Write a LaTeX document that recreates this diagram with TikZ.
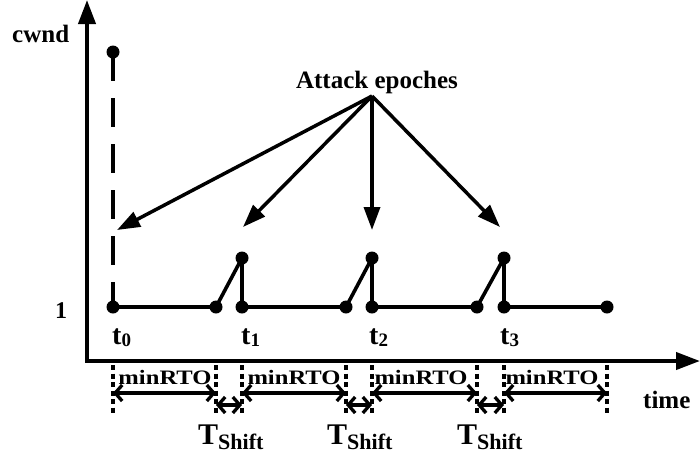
\documentclass[tikz,border=0pt]{standalone}
\usepackage{fontspec}
\setmainfont{Liberation Serif}
\usetikzlibrary{arrows.meta}
\newcommand{\tlabel}[1]{{\fontsize{28}{28}\selectfont t}{\fontsize{19}{19}\selectfont\raisebox{-2pt}{#1}}}
\newcommand{\shiftlabel}{{\fontsize{30}{30}\selectfont T}{\fontsize{22}{22}\selectfont\raisebox{-5pt}{Shift}}}
\newcommand{\rtolabel}{\scalebox{1.2}[1]{\fontsize{20.5}{20.5}\selectfont minRTO}}
\begin{document}
\begin{tikzpicture}[x=1pt,y=-1pt,
  axis/.style={line width=4pt, line join=miter,
    {Triangle[length=24pt,width=17pt]}-{Triangle[length=24pt,width=17pt]}},
  dot/.style={circle, fill=black, inner sep=0pt, minimum size=13pt},
  cwndline/.style={line width=3.6pt, line join=round},
  epoch/.style={line width=3.5pt, -{Triangle[length=23pt,width=16pt]}},
  dashedline/.style={line width=3.5pt, dash pattern=on 29pt off 17pt},
  guide/.style={line width=3.5pt, dash pattern=on 5pt off 3.5pt},
  span/.style={line width=3.3pt,
    {Straight Barb[length=7pt,width=16pt]}-{Straight Barb[length=7pt,width=16pt]}},
  lbl/.style={inner sep=0pt, font=\fontsize{25}{25}\selectfont\bfseries},
]
\useasboundingbox (0,0) rectangle (700,459);

% axes
\coordinate (ytop) at (87,0);
\coordinate (origin) at (87,361);
\coordinate (xend) at (700,361);
\draw[axis] (ytop) -- (origin) -- (xend);
\node[lbl, anchor=base west] (cwnd) at (12,42) {cwnd};
\node[lbl, anchor=base west] (time) at (643,408) {time};
\node[lbl, anchor=base, font=\fontsize{24}{24}\selectfont\bfseries] (one) at (61,318) {1};

% congestion window samples
\node[dot] (top) at (113,52) {};
\node[dot] (p0) at (113,307) {};
\node[dot] (a1) at (216,307) {};
\node[dot] (h1) at (242,258) {};
\node[dot] (p1) at (242,307) {};
\node[dot] (a2) at (346,307) {};
\node[dot] (h2) at (372,258) {};
\node[dot] (p2) at (372,307) {};
\node[dot] (a3) at (477,307) {};
\node[dot] (h3) at (504,258) {};
\node[dot] (p3) at (504,307) {};
\node[dot] (pend) at (607,307) {};

\draw[dashedline] (top.center) -- (p0.center);
\draw[cwndline] (p0.center) -- (a1.center) -- (h1.center) -- (p1.center)
  -- (a2.center) -- (h2.center) -- (p2.center)
  -- (a3.center) -- (h3.center) -- (p3.center) -- (pend.center);

% time instants
\node[lbl, anchor=base west] (t0) at (112,344) {\tlabel{0}};
\node[lbl, anchor=base west] (t1) at (241,344) {\tlabel{1}};
\node[lbl, anchor=base west] (t2) at (369,344) {\tlabel{2}};
\node[lbl, anchor=base west] (t3) at (500,344) {\tlabel{3}};

% attack epochs
\node[lbl, anchor=base] (attack) at (377,88) {Attack epoches};
\coordinate (src) at (372,96);
\coordinate (e0) at (117,230);
\coordinate (e1) at (243,227);
\coordinate (e2) at (372,230);
\coordinate (e3) at (500,227);
\foreach \e in {e0,e1,e2,e3} \draw[epoch] (src) -- (\e);

% interval guides
\foreach \n/\x in {g0/113,g1/216,g2/242,g3/346,g4/372,g5/477,g6/504,g7/607}{
  \coordinate (\n-top) at (\x,365);
  \coordinate (\n-bot) at (\x,414);
  \coordinate (\n-r) at (\x,393);
  \coordinate (\n-s) at (\x,405);
  \draw[guide] (\n-top) -- (\n-bot);
}

% minRTO spans
\draw[span] (g0-r) -- (g1-r);
\draw[span] (g2-r) -- (g3-r);
\draw[span] (g4-r) -- (g5-r);
\draw[span] (g6-r) -- (g7-r);
\node[lbl, anchor=base] (r0) at (165,384) {\rtolabel};
\node[lbl, anchor=base] (r1) at (294,384) {\rtolabel};
\node[lbl, anchor=base] (r2) at (421,384) {\rtolabel};
\node[lbl, anchor=base] (r3) at (552,384) {\rtolabel};

% shift spans
\draw[span] (g1-s) -- (g2-s);
\draw[span] (g3-s) -- (g4-s);
\draw[span] (g5-s) -- (g6-s);
\node[lbl, anchor=base west] (s1) at (198,444) {\shiftlabel};
\node[lbl, anchor=base west] (s2) at (327,444) {\shiftlabel};
\node[lbl, anchor=base west] (s3) at (457,444) {\shiftlabel};
\end{tikzpicture}
\end{document}
